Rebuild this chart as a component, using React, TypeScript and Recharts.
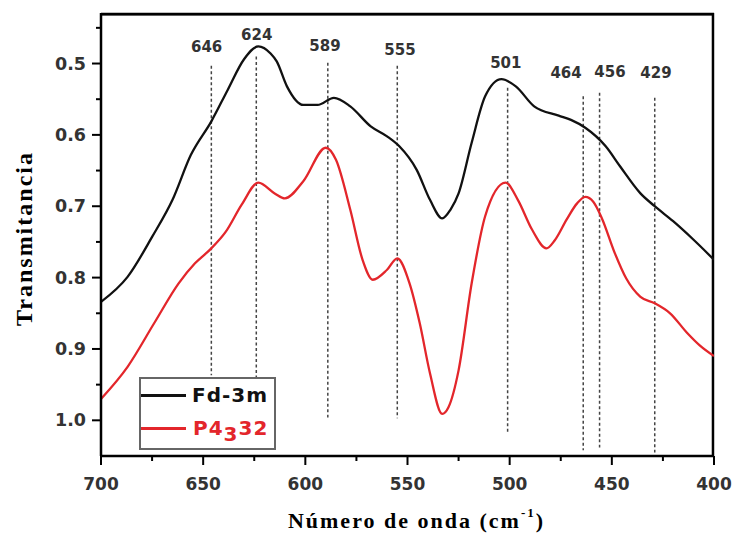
import React from 'react';
import { LineChart, Line, XAxis, YAxis, ReferenceLine, ReferenceDot, Legend } from 'recharts';

// Fd-3m spectrum (wavenumber cm^-1, transmittance)
const fdWave = [700, 687, 675, 665, 656, 646, 638, 630, 623, 617, 614, 609, 601, 594, 586, 578, 568, 560, 554, 545.5, 539, 533, 529, 525, 518.6, 512, 504, 497, 488, 476, 470, 463, 453, 446, 436, 429, 420, 410, 400];
const fdTrans = [0.834, 0.799, 0.743, 0.691, 0.628, 0.581, 0.537, 0.494, 0.476, 0.486, 0.497, 0.532, 0.558, 0.558, 0.548, 0.560, 0.588, 0.602, 0.616, 0.649, 0.691, 0.717, 0.705, 0.682, 0.611, 0.546, 0.522, 0.532, 0.560, 0.573, 0.579, 0.590, 0.616, 0.644, 0.682, 0.700, 0.721, 0.747, 0.775];

// P4332 spectrum
const pWave = [700, 687, 674, 662, 654, 646, 639, 631, 623, 615, 610, 601, 590, 585, 578, 572, 567, 560, 555, 549, 544, 539, 533, 530, 525, 518.6, 512, 502, 496, 489, 482, 478, 472, 467, 463, 459, 455, 448.5, 443, 436, 429, 421.5, 413, 407, 400];
const pTrans = [0.970, 0.925, 0.864, 0.808, 0.780, 0.759, 0.736, 0.697, 0.667, 0.682, 0.689, 0.665, 0.618, 0.635, 0.705, 0.775, 0.803, 0.789, 0.773, 0.808, 0.864, 0.934, 0.991, 0.982, 0.930, 0.808, 0.714, 0.667, 0.691, 0.733, 0.759, 0.748, 0.718, 0.696, 0.687, 0.694, 0.716, 0.766, 0.801, 0.827, 0.836, 0.850, 0.878, 0.895, 0.910];

// marked bands
const bandWave = [646, 624, 589, 555, 501, 464, 456, 429];
const bandTop = [0.503, 0.49, 0.499, 0.503, 0.534, 0.546, 0.541, 0.548];
const bandBottom = [0.937, 0.94, 0.996, 0.997, 1.018, 1.042, 1.038, 1.045];
const bandLabelWave = [648.3, 623.8, 590.4, 553.7, 501.9, 472.4, 450.9, 428.4];
const bandLabelY = [0.476, 0.459, 0.475, 0.480, 0.499, 0.513, 0.511, 0.513];

const xDomain = [400, 700];
const yDomain = [0.4292, 1.05];
const xTicks = [700, 675, 650, 625, 600, 575, 550, 525, 500, 475, 450, 425, 400];
const yTicks = [0.45, 0.5, 0.55, 0.6, 0.65, 0.7, 0.75, 0.8, 0.85, 0.9, 0.95, 1.0];

const fdData = fdWave.map((x, i) => ({ x, y: fdTrans[i] }));
const pData = pWave.map((x, i) => ({ x, y: pTrans[i] }));

const CHART_W = 726;
const CHART_H = 527;
const MARGIN = { top: 5, right: 20, bottom: 0, left: 0 };
const Y_AXIS_W = 93;
const PLOT_W = CHART_W - MARGIN.left - MARGIN.right - Y_AXIS_W;

// frame edges nudged ~1px inside the plot so the full stroke shows
const frameTop = yDomain[0] + 0.0016;
const frameRight = xDomain[0] + 0.5;

const tickFont = { fontFamily: '"DejaVu Sans", sans-serif', fontWeight: 'bold' as const, fontSize: 17, fill: '#333' };

const XTick = (props: any) => {
  const { x, y, payload } = props;
  const v = payload.value;
  const major = Math.round(v) % 50 === 0;
  return (
    <g>
      <line x1={x} x2={x} y1={y} y2={y + (major ? 9 : 5)} stroke="#000" strokeWidth={2} />
      {major && (
        <text x={x} y={y + 28} textAnchor="middle" dominantBaseline="central" {...tickFont}>{v}</text>
      )}
    </g>
  );
};

const YTick = (props: any) => {
  const { x, y, payload } = props;
  const v = payload.value;
  const major = Math.abs(v * 10 - Math.round(v * 10)) < 1e-6;
  return (
    <g>
      <line x1={x - (major ? 9 : 5)} x2={x} y1={y} y2={y} stroke="#000" strokeWidth={2} />
      {major && (
        <text x={x - 15} y={y} textAnchor="end" dominantBaseline="central" {...tickFont} fontSize={17.5}>{v.toFixed(1)}</text>
      )}
    </g>
  );
};

const XTitle = (props: any) => {
  const vb = props.viewBox || {};
  const cx = vb.x + vb.width / 2 + 9;
  const cy = vb.y + 64;
  return (
    <text x={cx} y={cy} textAnchor="middle" dominantBaseline="central"
      style={{ fontFamily: '"Liberation Serif", serif', fontWeight: 'bold', fontSize: 22, letterSpacing: 2 }} fill="#000">
      Número de onda (cm<tspan dy={-8} fontSize={13}>-1</tspan><tspan dy={8}>)</tspan>
    </text>
  );
};

const YTitle = (props: any) => {
  const vb = props.viewBox || {};
  const cx = vb.x + 16;
  const cy = vb.y + vb.height / 2 + 4;
  const left = vb.x + vb.width;
  return (
    <g>
      <line x1={left} x2={left + PLOT_W} y1={vb.y + 1} y2={vb.y + 1} stroke="#000" strokeWidth={2.5} />
      <text x={cx} y={cy} textAnchor="middle" dominantBaseline="central" transform={`rotate(-90, ${cx}, ${cy})`}
        style={{ fontFamily: '"Liberation Serif", serif', fontWeight: 'bold', fontSize: 24, letterSpacing: 2 }} fill="#000">
        Transmitancia
      </text>
    </g>
  );
};

const legendText = { fontFamily: '"DejaVu Sans", sans-serif', fontWeight: 'bold' as const, fontSize: 20, letterSpacing: 1, lineHeight: '20px' };

const LegendBox = () => (
  <div style={{ position: 'relative', width: 137, height: 73, boxSizing: 'border-box', border: '2px solid #666', background: '#fff' }}>
    <div style={{ position: 'absolute', left: 0, top: 15, width: 45, height: 2.5, background: '#111' }} />
    <div style={{ position: 'absolute', left: 51, top: 6, color: '#111', ...legendText }}>Fd-3m</div>
    <div style={{ position: 'absolute', left: 0, top: 48, width: 45, height: 2.5, background: '#e3262b' }} />
    <div style={{ position: 'absolute', left: 52, top: 39, color: '#e3262b', ...legendText }}>
      P4<span style={{ position: 'relative', top: 6 }}>3</span>32
    </div>
  </div>
);

export default function App() {
  return (
    <div style={{ width: CHART_W, height: CHART_H }}>
      <style>{'body{margin:8px 0 0 8px;width:726px;}'}</style>
      <LineChart width={CHART_W} height={CHART_H} margin={MARGIN}>
        <XAxis
          type="number"
          dataKey="x"
          domain={xDomain}
          reversed
          allowDataOverflow
          ticks={xTicks}
          interval={0}
          tickLine={false}
          tickSize={0}
          tickMargin={0}
          axisLine={{ stroke: '#000', strokeWidth: 2.5 }}
          tick={<XTick />}
          height={79}
          label={<XTitle />}
        />
        <YAxis
          type="number"
          dataKey="y"
          domain={yDomain}
          reversed
          allowDataOverflow
          ticks={yTicks}
          interval={0}
          tickLine={false}
          tickSize={0}
          tickMargin={0}
          axisLine={{ stroke: '#000', strokeWidth: 2.5 }}
          tick={<YTick />}
          width={Y_AXIS_W}
          label={<YTitle />}
        />
        <ReferenceLine
          segment={[{ x: xDomain[1], y: frameTop }, { x: xDomain[0], y: frameTop }]}
          stroke="#000"
          strokeWidth={2.5}
          ifOverflow="visible"
        />
        <ReferenceLine
          segment={[{ x: frameRight, y: yDomain[0] }, { x: frameRight, y: yDomain[1] }]}
          stroke="#000"
          strokeWidth={2.5}
          ifOverflow="visible"
        />
        {bandWave.map((w, i) => (
          <ReferenceLine
            key={'l' + w}
            segment={[{ x: w, y: bandTop[i] }, { x: w, y: bandBottom[i] }]}
            stroke="#444"
            strokeWidth={1.5}
            strokeDasharray="3 2.5"
            ifOverflow="visible"
          />
        ))}
        {bandWave.map((w, i) => (
          <ReferenceDot
            key={'t' + w}
            x={bandLabelWave[i]}
            y={bandLabelY[i]}
            r={0}
            fill="none"
            stroke="none"
            ifOverflow="visible"
            label={{ value: String(w), position: 'center', fill: '#333', fontSize: 15, fontWeight: 'bold', fontFamily: '"DejaVu Sans", sans-serif' }}
          />
        ))}
        <Line data={fdData} dataKey="y" type="monotone" stroke="#111" strokeWidth={2.3} dot={false} isAnimationActive={false} name="Fd-3m" />
        <Line data={pData} dataKey="y" type="monotone" stroke="#e3262b" strokeWidth={2.3} dot={false} isAnimationActive={false} name="P4332" />
        <Legend
          layout="vertical"
          align="center"
          verticalAlign="middle"
          content={() => <LegendBox />}
          wrapperStyle={{ position: 'absolute', left: 131, top: 369, width: 137, height: 73 }}
        />
      </LineChart>
    </div>
  );
}
